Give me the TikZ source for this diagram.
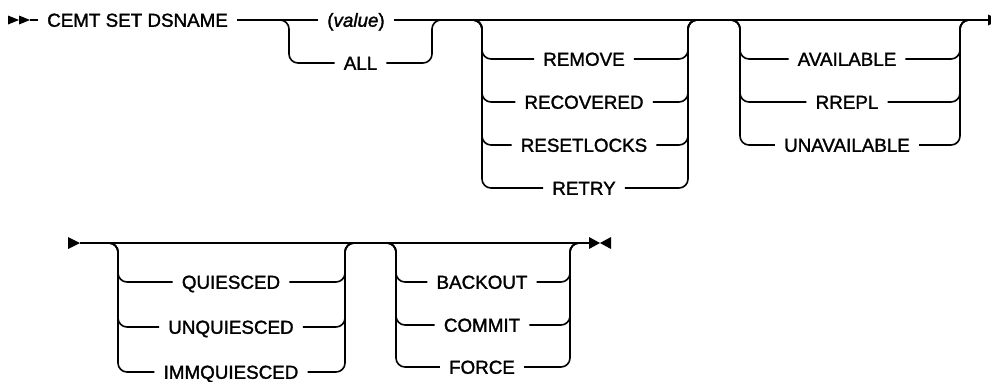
\documentclass[tikz,border=0pt]{standalone}
\usepackage{fontspec}
\setmainfont{Liberation Sans}[
  BoldFont={Liberation Sans}, BoldFeatures={FakeBold=1.5},
  BoldItalicFont={Liberation Sans Italic}, BoldItalicFeatures={FakeBold=1.5}]
\begin{document}
\begin{tikzpicture}[x=1pt,y=-1pt,
  rail/.style={line width=1.6pt, rounded corners=9pt},
  kw/.style={font=\fontsize{18.8}{20}\selectfont\bfseries, inner xsep=9pt, inner ysep=0pt,
             text height=13.5pt, text depth=0pt},
  tip/.style={fill=black, draw=none}]
\useasboundingbox (0,0) rectangle (991,381);

% ---------- row 1 ----------
\coordinate (s1) at (30,20);
\coordinate (e1) at (988,20);
\fill[tip] (8,15.5) -- (19,20) -- (8,24.5) -- cycle;
\fill[tip] (19,15.5) -- (30,20) -- (19,24.5) -- cycle;
\fill[tip] (988,14.5) -- (999,20) -- (988,25.5) -- cycle;

\node[kw, anchor=west] (cmd) at (38,20) {CEMT SET DSNAME};
\node[kw] (val) at (356,20) {(\textit{value})};
\node[kw] (all) at (360.5,63) {ALL};

\draw[rail] (s1) -- (cmd.west);
\draw[rail] (cmd.east) -- (val.west);
\draw[rail] (val.east) -- (e1);

\draw[rail] (280,20) -- (289,20) -- (289,63) -- (all.west);
\draw[rail] (all.east) -- (432,63) -- (432,20) -- (441,20);

\foreach \yy/\tt/\nn in {59/REMOVE/rm, 102/RECOVERED/rc, 145/RESETLOCKS/rl, 188/RETRY/rt}{
  \node[kw] (\nn) at (584,\yy) {\tt};
  \draw[rail] (473,20) -- (482,20) -- (482,\yy) -- (\nn.west);
  \draw[rail] (\nn.east) -- (688,\yy) -- (688,20) -- (697,20);
}

\foreach \yy/\tt/\nn in {59/AVAILABLE/av, 102/RREPL/rr, 145/UNAVAILABLE/ua}{
  \node[kw] (\nn) at (847,\yy) {\tt};
  \draw[rail] (731,20) -- (740,20) -- (740,\yy) -- (\nn.west);
  \draw[rail] (\nn.east) -- (960,\yy) -- (960,20) -- (969,20);
}

% ---------- row 2 ----------
\coordinate (s2) at (80,243);
\coordinate (e2) at (589,243);
\fill[tip] (68,237) -- (80,243) -- (68,249) -- cycle;
\fill[tip] (589,237) -- (600,243) -- (589,249) -- cycle;
\fill[tip] (611,237) -- (600,243) -- (611,249) -- cycle;
\draw[rail] (s2) -- (e2);

\foreach \yy/\tt/\nn in {282/QUIESCED/qu, 327/UNQUIESCED/uq, 372/IMMQUIESCED/iq}{
  \node[kw] (\nn) at (231,\yy) {\tt};
  \draw[rail] (109,243) -- (118,243) -- (118,\yy) -- (\nn.west);
  \draw[rail] (\nn.east) -- (345,\yy) -- (345,243) -- (354,243);
}

\foreach \yy/\tt/\nn in {282/BACKOUT/bo, 325/COMMIT/cm, 367/FORCE/fo}{
  \node[kw] (\nn) at (482,\yy) {\tt};
  \draw[rail] (387,243) -- (396,243) -- (396,\yy) -- (\nn.west);
  \draw[rail] (\nn.east) -- (570,\yy) -- (570,243) -- (579,243);
}
\end{tikzpicture}
\end{document}
